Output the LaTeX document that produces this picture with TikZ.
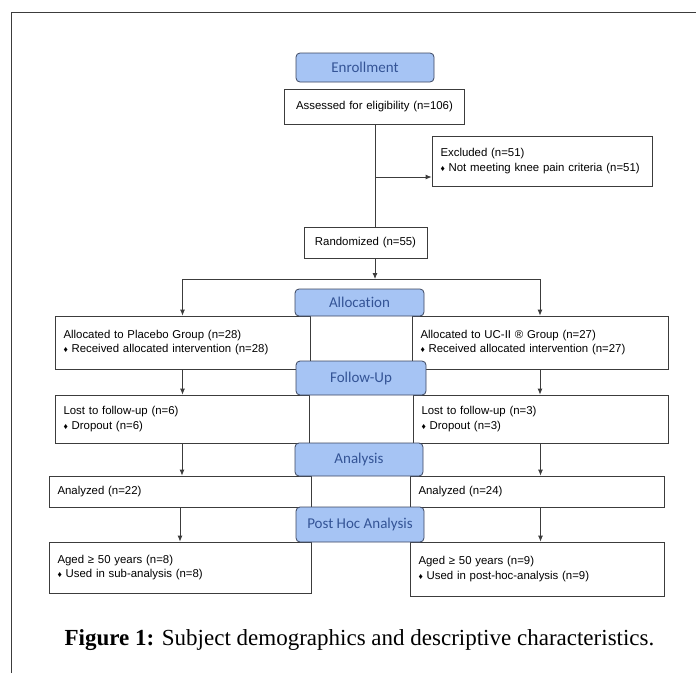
\documentclass[tikz,border=0pt]{standalone}
\usepackage{fontspec}
\usepackage{tikz}
\usetikzlibrary{arrows.meta}
\newfontfamily\boxfont{Liberation Sans}
\newfontfamily\headfont[Ligatures=NoCommon]{Carlito}
\newfontfamily\capfont{Liberation Serif}
\definecolor{stage blue}{RGB}{166,196,244}
\definecolor{stage text}{RGB}{52,84,150}
\definecolor{stage edge}{RGB}{60,70,95}
\definecolor{line gray}{RGB}{60,60,60}
\newcommand{\dmd}{{\fontsize{8.5}{8}\selectfont\symbol{"2666}}\ }

\tikzset{
	stage/.style = {draw = stage edge, fill = stage blue, rounded corners = 4pt,
		text = stage text, font = \headfont\fontsize{15}{18}\selectfont,
		minimum width = #1, inner sep = 0pt, line width = 0.8pt},
	info/.style = {draw = line gray, fill = white, align = left, text width = #1,
		inner xsep = 8.5pt, inner ysep = 0pt, line width = 0.8pt,
		font = \boxfont\fontsize{11.4}{14.3}\selectfont},
	link/.style = {draw = line gray, line width = 0.8pt},
	flow/.style = {link, -{Latex[length = 6pt, width = 5pt]}}
}

\begin{document}
\begin{tikzpicture}[x = 1pt, y = -1pt]
		\useasboundingbox (0, 0) rectangle (696, 673);
		% frame
		\draw[line gray, line width = 0.9pt] (11, 673) -- (11, 12) -- (696, 12);
		% screening
		\node[info = 163pt, align = center, minimum height = 35pt] (assess) at (374.5, 106.5)
			{Assessed for eligibility (n=106)};
		\node[info = 203pt, minimum height = 50pt] (excl) at (542, 161)
			{Excluded (n=51)\\\dmd Not meeting knee pain criteria (n=51)};
		\node[info = 106pt, align = center, minimum height = 31pt] (rand) at (365.5, 242.5)
			{Randomized (n=55)};
		% left arm
		\node[info = 238pt, minimum height = 53pt] (placebo) at (182.5, 342.5)
			{Allocated to Placebo Group (n=28)\\\dmd Received allocated intervention (n=28)};
		\node[info = 237pt, minimum height = 48pt] (lostA) at (182, 419)
			{Lost to follow-up (n=6)\\\dmd Dropout (n=6)};
		\node[info = 245pt, minimum height = 31pt] (anA) at (180, 491.5)
			{Analyzed (n=22)};
		\node[info = 245pt, minimum height = 51pt] (agedA) at (180, 567.5)
			{Aged ≥ 50 years (n=8)\\\dmd Used in sub-analysis (n=8)};
		% right arm
		\node[info = 239pt, minimum height = 53pt] (ucii) at (540, 342.5)
			{Allocated to UC-II ® Group (n=27)\\\dmd Received allocated intervention (n=27)};
		\node[info = 238pt, minimum height = 48pt] (lostB) at (540.5, 419)
			{Lost to follow-up (n=3)\\\dmd Dropout (n=3)};
		\node[info = 237pt, minimum height = 31pt] (anB) at (537, 491.5)
			{Analyzed (n=24)};
		\node[info = 237pt, minimum height = 54pt] (agedB) at (537, 569)
			{Aged ≥ 50 years (n=9)\\\dmd Used in post-hoc-analysis (n=9)};
		% stage headers
		\node[stage = 138pt, minimum height = 29pt] (enrol) at (365, 67.5) {Enrollment};
		\node[stage = 129pt, minimum height = 27pt] (alloc) at (359.5, 302.5) {Allocation};
		\node[stage = 130pt, minimum height = 34pt] (follow) at (361, 378) {Follow-Up};
		\node[stage = 128pt, minimum height = 33pt] (analysis) at (359, 459.5) {Analysis};
		\node[stage = 128pt, minimum height = 35pt] (posthoc) at (360, 524.5) {Post Hoc Analysis};
		% connectors
		\coordinate (split) at (375, 177);
		\coordinate (fork) at (375, 279);
		\draw[link] (assess.south -| split) -- (split |- rand.north);
		\draw[flow] (split) -- (split -| excl.west);
		\draw[flow] (split |- rand.south) -- (fork);
		\draw[link] (fork -| placebo.north) -- (fork -| ucii.north);
		\draw[flow] (fork -| placebo.north) -- (placebo.north);
		\draw[flow] (fork -| ucii.north) -- (ucii.north);
		\draw[flow] (placebo.south) -- (lostA.north -| placebo.south);
		\draw[flow] (lostA.south) -- (anA.north -| lostA.south);
		\draw[flow] (anA.south) -- (agedA.north);
		\draw[flow] (ucii.south) -- (lostB.north -| ucii.south);
		\draw[flow] (lostB.south) -- (anB.north -| lostB.south);
		\draw[flow] (anB.south -| lostB.south) -- (agedB.north -| lostB.south);
		% caption
		\node[font = \capfont\fontsize{23}{27}\selectfont, anchor = base] (caption) at (359.5, 645)
			{\textbf{Figure 1:} Subject demographics and descriptive characteristics.};
	\end{tikzpicture}
\end{document}
